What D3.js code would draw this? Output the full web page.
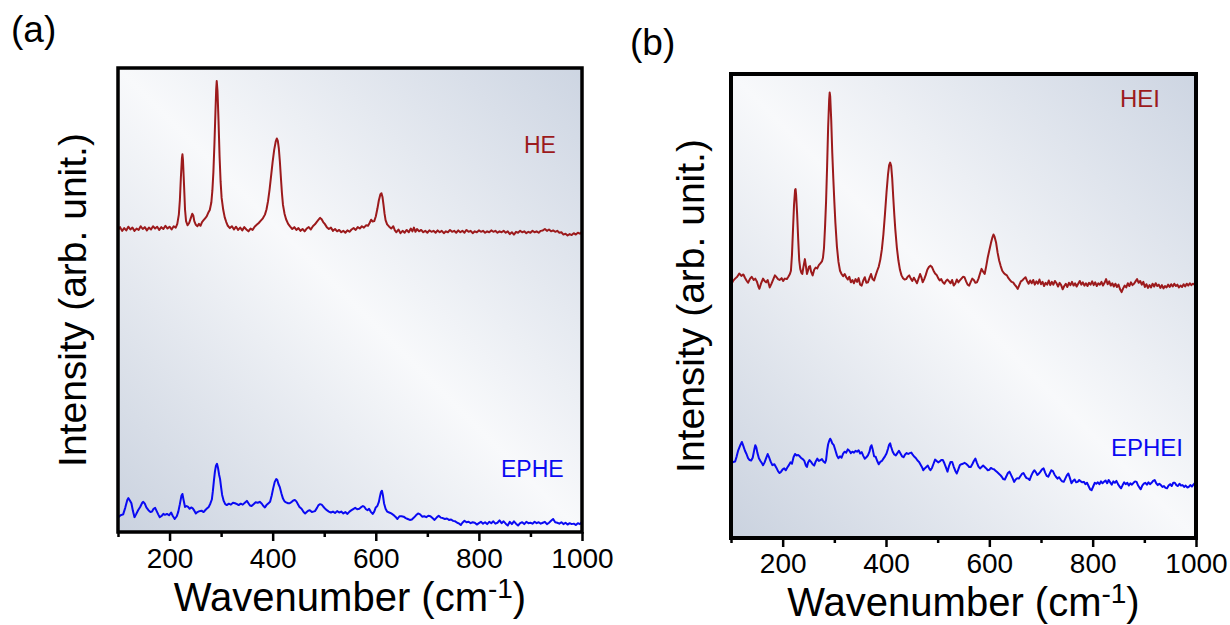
<!DOCTYPE html>
<html>
<head>
<meta charset="utf-8">
<script src="https://cdn.jsdelivr.net/npm/d3@7"></script>
<style>
  body { margin: 0; background: #fff; }
  text { font-family: Arial, "Liberation Sans", sans-serif; }
</style>
</head>
<body>
<svg id="chart" width="1230" height="625"></svg>
<script>
// Raman spectra, [wavenumber (cm-1), intensity (arb.)]
const heSpectrum = [[100,65.1],[104,65.7],[108,64.9],[112,65.5],[116,65.0],[120,65.8],[124,65.2],[128,65.6],[132,64.9],[136,65.4],[140,65.1],[144,65.9],[148,65.3],[152,65.7],[156,65.0],[160,65.6],[164,65.2],[168,65.9],[172,65.4],[176,65.8],[180,65.1],[184,65.7],[188,65.3],[192,66.0],[196,65.4],[200,65.8],[204,65.2],[208,65.9],[212,65.6],[215,66.4],[218,68.4],[220,71.5],[222,76.5],[224,80.6],[225,81.4],[226,80.2],[228,75.0],[230,69.5],[232,67.0],[235,66.1],[238,66.6],[241,67.6],[244,68.6],[246,68.2],[248,67.0],[251,66.2],[254,65.9],[257,66.4],[260,66.0],[263,66.8],[266,67.2],[269,67.6],[272,68.0],[275,68.8],[278,69.4],[281,71.0],[283,73.5],[285,77.5],[287,83.5],[289,90.5],[290.5,95.5],[291.5,97.2],[293,95.0],[295,88.5],[297,81.0],[299,75.5],[301,72.0],[304,69.5],[307,67.8],[310,66.8],[313,66.0],[317,65.5],[321,65.9],[325,65.2],[329,65.8],[333,65.1],[337,65.6],[341,65.0],[345,65.7],[349,65.2],[353,64.8],[357,65.4],[361,65.1],[365,65.8],[369,66.2],[373,66.6],[377,67.1],[381,67.6],[385,68.4],[388,69.5],[391,71.3],[394,73.8],[397,76.8],[400,79.8],[403,82.4],[406,84.2],[408,84.8],[410,84.3],[412,82.6],[414,79.8],[416,76.3],[418,73.0],[420,70.5],[423,68.6],[426,67.4],[430,66.4],[434,65.8],[438,65.3],[442,65.7],[446,65.1],[450,65.5],[454,64.9],[458,65.3],[462,64.8],[466,65.4],[470,65.7],[474,65.2],[478,65.9],[482,66.3],[486,66.9],[489,67.3],[492,67.7],[495,67.4],[498,66.8],[501,66.4],[505,65.7],[509,65.3],[513,65.6],[517,64.9],[521,65.3],[525,64.8],[529,65.1],[533,64.6],[537,64.9],[541,64.5],[545,65.0],[549,64.7],[553,65.2],[557,65.5],[561,65.1],[565,65.7],[569,65.4],[573,65.9],[577,65.6],[581,66.1],[585,66.0],[588,66.6],[591,67.3],[594,66.9],[597,67.0],[600,68.0],[603,69.6],[606,71.5],[609,72.8],[611,73.0],[613,72.2],[615,70.5],[617,68.6],[619,67.2],[622,66.3],[626,65.8],[630,65.4],[634,65.9],[637,65.0],[640,64.6],[644,65.2],[648,64.4],[652,64.9],[656,64.5],[660,65.1],[664,64.6],[668,65.4],[671,64.8],[674,65.6],[677,64.7],[680,65.3],[684,64.8],[688,65.1],[692,64.6],[696,64.9],[700,64.5],[704,65.0],[708,64.7],[712,64.9],[716,64.5],[720,65.0],[724,64.6],[728,64.9],[732,64.4],[736,64.8],[740,64.6],[744,65.1],[748,64.7],[752,64.9],[756,64.5],[760,65.0],[764,64.6],[768,64.9],[772,64.5],[776,65.1],[780,64.7],[784,64.9],[788,64.4],[792,64.8],[796,64.6],[800,65.0],[804,64.7],[808,64.9],[812,64.5],[816,64.8],[820,64.6],[824,65.0],[828,64.7],[832,64.9],[836,64.5],[840,64.8],[844,64.6],[848,64.9],[852,64.5],[856,64.8],[860,64.2],[864,64.6],[868,64.1],[872,64.7],[876,64.5],[880,64.9],[884,64.6],[888,64.8],[892,64.4],[896,64.7],[900,64.5],[904,64.9],[908,64.6],[912,64.8],[916,64.5],[920,64.9],[924,65.0],[928,65.3],[932,64.9],[936,65.2],[940,64.8],[944,65.0],[948,64.7],[952,64.9],[956,64.5],[960,64.6],[964,64.1],[968,64.3],[972,63.9],[976,64.2],[980,64.0],[984,64.4],[988,64.1],[992,64.5],[996,64.3],[1000,64.7]];

const epheSpectrum = [[100,3.1],[105,3.6],[110,3.8],[114,5.2],[118,6.9],[120,7.3],[123,6.8],[126,6.2],[129,4.5],[132,3.2],[135,3.8],[139,4.7],[143,5.4],[147,6.3],[149,6.5],[152,6.1],[155,5.3],[159,4.7],[163,4.3],[166,4.4],[169,5.0],[172,5.2],[175,4.5],[178,3.8],[181,3.2],[185,3.5],[188,3.9],[191,3.7],[195,3.9],[199,3.6],[203,4.2],[206,3.5],[210,2.8],[214,3.4],[217,4.4],[220,6.0],[223,7.8],[225,8.2],[227,7.0],[230,5.4],[233,5.6],[236,5.4],[239,5.0],[242,5.3],[245,5.1],[248,4.6],[251,4.0],[254,4.3],[258,4.5],[262,4.6],[266,4.3],[270,4.8],[273,5.1],[276,5.4],[279,6.1],[282,7.0],[284,8.8],[286,11.0],[288,13.0],[290,14.3],[292,14.7],[294,13.8],[296,12.4],[298,11.4],[300,9.6],[302,8.0],[305,6.7],[308,6.0],[311,5.8],[315,6.1],[319,5.9],[323,6.3],[327,6.2],[331,6.0],[334,5.8],[338,6.1],[342,5.9],[346,6.3],[350,6.7],[353,6.2],[356,5.7],[359,5.6],[363,6.0],[367,6.4],[371,6.3],[375,6.5],[379,6.1],[382,5.6],[385,5.3],[388,5.8],[392,6.2],[395,6.5],[398,7.8],[401,9.4],[404,10.8],[407,11.4],[409,11.2],[411,10.4],[414,9.6],[417,8.3],[420,7.2],[423,6.6],[426,6.4],[430,6.2],[433,6.2],[437,6.5],[440,6.8],[443,6.9],[446,6.6],[449,6.0],[452,5.4],[456,5.0],[460,4.3],[463,4.0],[466,4.3],[469,4.6],[472,4.7],[476,4.3],[479,4.4],[482,4.5],[486,5.2],[489,5.8],[492,6.0],[495,5.9],[498,5.5],[502,5.0],[505,4.7],[509,4.4],[513,4.2],[517,4.4],[521,4.1],[525,4.5],[529,4.2],[533,4.4],[537,4.0],[541,4.3],[545,3.9],[549,4.4],[553,4.7],[557,5.0],[560,5.2],[564,4.9],[568,5.0],[571,5.3],[575,5.6],[578,5.4],[581,4.9],[584,4.7],[587,5.0],[590,4.4],[594,3.9],[597,4.4],[600,5.3],[603,5.6],[606,6.5],[608,7.6],[610,8.6],[612,8.9],[614,7.8],[616,6.2],[619,5.0],[622,4.4],[626,4.2],[630,4.0],[634,3.7],[638,3.3],[642,2.8],[646,3.4],[650,3.4],[654,3.3],[658,3.0],[662,2.8],[666,2.6],[670,2.7],[674,3.1],[678,3.6],[682,4.0],[686,3.8],[690,3.3],[694,3.4],[698,3.2],[702,3.5],[706,3.4],[710,3.0],[714,2.6],[718,3.1],[722,3.5],[726,3.1],[730,3.0],[734,2.8],[738,2.9],[742,2.6],[746,2.7],[750,2.4],[754,2.3],[758,2.0],[762,1.8],[765,1.5],[768,2.0],[772,2.4],[776,2.1],[780,2.2],[784,1.9],[788,2.1],[792,2.0],[796,1.6],[800,1.9],[804,2.2],[808,1.8],[812,2.1],[816,1.7],[820,2.2],[824,1.9],[828,2.3],[832,1.8],[836,2.0],[840,2.5],[844,1.9],[848,2.3],[852,1.8],[856,1.4],[860,2.2],[864,1.7],[868,2.3],[872,1.8],[876,1.4],[880,1.9],[884,2.1],[888,1.7],[892,2.2],[896,1.9],[900,2.0],[904,1.8],[908,2.2],[912,1.9],[916,2.1],[920,1.8],[924,2.0],[928,2.2],[932,1.7],[936,2.0],[940,2.4],[944,2.8],[948,2.1],[952,2.0],[956,1.8],[960,2.1],[964,1.7],[968,2.0],[972,1.6],[976,1.9],[980,1.7],[984,1.8],[988,1.5],[992,1.9],[996,1.7],[1000,2.2]];

const heiSpectrum = [[100,54.6],[104,55.4],[108,55.9],[112,56.3],[116,57.0],[120,56.5],[124,56.8],[127,56.1],[130,55.5],[133,55.0],[137,55.9],[140,56.3],[144,55.6],[147,55.9],[150,55.3],[153,54.2],[155,53.7],[158,54.8],[162,55.9],[165,55.4],[168,55.1],[171,55.6],[175,54.0],[178,54.7],[182,55.8],[185,56.6],[188,56.2],[191,55.8],[194,55.6],[198,56.0],[201,55.4],[204,55.9],[208,55.8],[211,56.3],[214,56.9],[216,57.6],[218,61.0],[220,66.5],[222,71.8],[224,75.0],[225,75.2],[226,74.0],[228,69.8],[230,64.5],[232,59.9],[234,58.0],[236,57.2],[238,56.9],[240,58.3],[243,60.1],[245,58.6],[247,56.9],[249,57.6],[251,58.5],[253,58.6],[255,57.4],[258,56.6],[261,57.8],[264,58.3],[267,58.1],[270,58.8],[273,59.2],[276,59.6],[278,60.4],[280,62.5],[282,67.0],[284,72.5],[286,80.0],[288,88.5],[290,94.5],[291,96.0],[292,95.2],[294,90.0],[296,83.0],[298,77.5],[300,72.5],[302,68.0],[305,62.8],[308,59.5],[311,57.6],[314,56.9],[317,56.4],[320,56.9],[323,56.2],[326,55.7],[329,56.3],[332,55.1],[335,55.6],[338,54.9],[341,55.8],[344,55.2],[347,56.0],[350,54.6],[353,54.4],[356,55.5],[359,56.2],[362,55.0],[365,55.1],[368,56.0],[371,56.9],[374,55.8],[377,55.5],[380,56.6],[383,57.6],[386,58.5],[389,60.0],[392,62.2],[395,65.5],[398,69.8],[401,74.5],[404,78.5],[406,80.3],[408,80.9],[410,80.2],[412,77.5],[414,73.5],[416,69.8],[418,66.5],[421,62.6],[424,59.8],[427,57.8],[430,56.6],[433,56.0],[436,55.7],[439,55.8],[442,56.3],[445,56.6],[448,55.9],[451,55.4],[454,56.1],[457,55.5],[460,54.9],[463,55.9],[466,56.9],[469,56.0],[471,55.1],[474,55.8],[477,56.7],[480,57.8],[483,58.4],[486,58.7],[489,58.4],[492,57.6],[495,57.0],[498,56.7],[501,56.0],[504,55.5],[507,55.8],[510,55.1],[513,54.8],[516,55.4],[519,55.7],[522,55.3],[525,54.9],[528,55.6],[531,54.4],[534,54.8],[537,55.7],[540,55.1],[543,55.5],[546,55.9],[549,56.3],[552,56.2],[555,55.3],[558,54.6],[561,54.4],[564,55.2],[567,55.9],[570,55.6],[573,55.0],[576,55.1],[579,55.9],[582,57.0],[585,58.0],[588,57.4],[591,56.9],[594,58.6],[597,60.5],[600,62.0],[603,63.5],[606,64.8],[608,65.4],[610,65.0],[613,63.7],[616,61.5],[619,59.8],[622,58.6],[625,57.6],[628,57.1],[631,56.8],[634,56.6],[637,56.0],[640,55.6],[643,55.2],[646,55.1],[649,54.6],[652,54.2],[655,53.7],[658,54.5],[661,55.3],[664,55.5],[667,55.9],[670,56.2],[673,55.4],[676,54.8],[679,55.5],[682,54.9],[685,55.6],[688,54.6],[691,55.3],[694,54.8],[697,55.7],[700,54.7],[703,55.2],[706,54.3],[709,55.0],[712,54.6],[715,55.5],[718,54.5],[721,55.2],[724,54.6],[727,55.4],[730,54.9],[733,54.2],[736,55.0],[739,54.5],[742,53.6],[745,54.3],[748,54.8],[751,54.1],[754,55.0],[757,54.5],[760,55.2],[763,54.4],[766,54.9],[769,54.2],[772,54.8],[775,55.4],[778,54.6],[781,55.1],[784,54.4],[787,54.9],[790,54.3],[793,55.0],[796,54.6],[799,55.3],[802,54.5],[805,55.1],[808,54.3],[811,54.9],[814,54.6],[817,55.2],[820,54.4],[823,55.0],[826,55.8],[829,54.7],[832,55.3],[835,54.4],[838,54.9],[841,54.2],[844,54.8],[847,54.1],[850,54.6],[853,53.6],[856,53.0],[859,53.8],[862,54.4],[865,54.0],[868,54.9],[871,54.3],[874,55.1],[877,54.5],[880,54.8],[883,55.3],[886,55.8],[889,55.0],[892,55.4],[895,54.6],[898,55.2],[901,54.1],[904,54.7],[907,53.9],[910,54.5],[913,54.0],[916,54.8],[919,54.2],[922,54.9],[925,54.3],[928,54.6],[931,53.9],[934,54.5],[937,53.8],[940,54.3],[943,54.0],[946,54.6],[949,54.1],[952,54.7],[955,54.2],[958,54.8],[961,54.3],[964,54.6],[967,54.0],[970,54.4],[973,54.1],[976,54.7],[979,54.2],[982,54.8],[985,54.4],[988,54.9],[991,54.5],[994,54.8],[997,54.6],[1000,55.0]];

const epheiSpectrum = [[100,16.0],[104,16.4],[108,16.5],[111,17.6],[114,18.9],[118,20.0],[121,20.7],[124,19.8],[127,18.8],[130,18.1],[133,17.2],[136,16.8],[139,16.7],[142,17.3],[145,19.0],[147,20.0],[149,19.5],[151,18.4],[154,17.2],[157,16.6],[160,16.1],[162,15.7],[165,16.3],[168,17.2],[171,18.1],[174,17.3],[177,16.4],[180,15.7],[184,15.9],[188,15.1],[191,14.4],[194,14.0],[197,14.3],[200,14.8],[203,15.0],[206,14.6],[209,15.2],[212,15.7],[215,16.3],[218,16.0],[221,17.4],[224,18.1],[227,17.8],[230,17.9],[233,17.6],[236,17.2],[239,17.0],[242,16.6],[245,15.6],[247,15.3],[249,16.2],[252,16.8],[255,16.4],[258,15.9],[261,15.6],[264,16.5],[267,17.1],[270,16.6],[273,16.8],[276,17.0],[279,16.5],[282,16.2],[284,16.8],[286,18.8],[288,20.2],[290,20.9],[292,21.4],[294,21.0],[296,20.4],[299,20.0],[302,18.9],[305,17.8],[308,17.2],[311,17.6],[314,17.3],[317,18.2],[320,18.6],[323,18.4],[326,19.1],[329,18.8],[332,18.3],[335,18.6],[338,18.4],[341,18.8],[344,18.6],[347,18.9],[350,18.2],[353,18.5],[356,17.7],[359,17.1],[362,17.4],[365,17.8],[368,18.6],[370,19.6],[372,20.0],[374,19.2],[377,17.6],[380,17.5],[383,16.6],[386,15.9],[389,16.4],[392,16.6],[395,17.1],[398,17.6],[401,18.2],[404,19.3],[406,20.1],[408,20.4],[410,19.6],[413,18.6],[416,18.0],[419,17.8],[422,18.3],[425,18.8],[428,18.2],[431,17.6],[434,17.4],[437,18.0],[440,18.3],[443,18.1],[446,18.3],[449,18.4],[452,17.9],[455,17.5],[458,17.2],[461,16.7],[464,16.4],[467,15.8],[470,15.2],[472,14.6],[475,15.0],[478,15.3],[481,15.6],[484,14.9],[486,14.6],[489,15.1],[492,16.0],[495,16.9],[498,16.6],[501,16.3],[504,16.5],[507,16.8],[510,16.8],[513,16.1],[516,15.2],[519,14.3],[522,15.5],[525,16.4],[528,16.4],[531,15.4],[534,14.5],[537,13.9],[540,14.8],[543,15.7],[546,15.9],[549,16.0],[552,16.2],[555,16.0],[558,15.7],[561,15.3],[564,15.3],[567,15.9],[570,16.6],[573,17.1],[576,16.2],[579,15.4],[582,15.0],[585,15.3],[588,15.6],[591,15.3],[594,15.0],[597,14.6],[600,14.7],[603,15.1],[606,14.9],[609,14.8],[612,14.5],[615,14.2],[618,13.9],[621,13.6],[624,13.2],[627,12.7],[630,12.6],[633,13.3],[636,14.0],[639,14.3],[642,13.6],[645,12.9],[648,12.1],[651,12.6],[654,12.9],[657,12.8],[660,13.3],[663,13.8],[666,14.0],[669,13.4],[672,12.9],[675,12.8],[678,12.5],[681,13.4],[684,14.1],[687,14.6],[690,14.2],[693,13.6],[696,13.9],[699,14.3],[702,14.8],[705,15.0],[708,14.1],[711,13.4],[714,13.2],[717,13.9],[720,14.6],[723,14.4],[726,13.7],[729,13.2],[732,12.8],[735,13.1],[738,12.6],[741,12.2],[744,12.1],[747,12.8],[750,13.5],[753,13.9],[756,12.9],[759,11.8],[762,12.3],[765,12.6],[768,12.0],[771,12.1],[774,12.5],[777,12.2],[780,12.0],[783,12.1],[786,11.6],[789,11.9],[792,11.2],[795,10.5],[798,10.3],[801,11.1],[804,11.9],[807,11.7],[810,12.0],[813,11.6],[816,12.2],[819,11.8],[822,12.1],[825,12.4],[828,11.8],[831,12.5],[834,12.0],[837,11.5],[840,12.2],[843,11.9],[846,12.3],[849,11.6],[852,11.1],[855,10.7],[858,11.4],[861,12.0],[864,11.6],[867,11.9],[870,11.3],[873,11.8],[876,11.5],[879,11.9],[882,12.2],[885,12.1],[888,11.3],[891,10.8],[893,10.5],[896,11.3],[899,11.7],[902,11.9],[905,11.5],[908,12.0],[911,11.6],[914,11.9],[917,12.3],[920,12.5],[923,11.8],[926,11.4],[929,11.7],[932,11.4],[935,11.0],[938,11.2],[941,10.8],[944,10.7],[947,11.3],[950,11.6],[953,11.2],[956,11.9],[959,11.9],[962,11.4],[965,11.2],[968,11.7],[971,11.3],[974,11.4],[977,11.0],[980,11.3],[983,10.9],[986,11.0],[989,11.4],[992,11.1],[995,11.5],[998,11.9],[1000,12.0]];

const xDomain = [100, 1000];
const majorTicks = [200, 400, 600, 800, 1000];
const minorTicks = [100, 300, 500, 700, 900];
const panelLabels = ["(a)", "(b)"];
const seriesNames = [["HE", "EPHE"], ["HEI", "EPHEI"]];

const RED = "#9c1a1c";
const BLUE = "#0a0af2";

const svg = d3.select("#chart");
svg.append("rect").attr("width", 1230).attr("height", 625).attr("fill", "#fff");

// background shading of the plot area
const defs = svg.append("defs");
const grad = defs.append("linearGradient")
    .attr("id", "bg")
    .attr("x1", 0).attr("y1", 1).attr("x2", 1).attr("y2", 0);
grad.append("stop").attr("offset", 0).attr("stop-color", "#cad2df");
grad.append("stop").attr("offset", 0.5).attr("stop-color", "#f8f9fb");
grad.append("stop").attr("offset", 1).attr("stop-color", "#cdd5e2");

const panels = [
  { left: 118, right: 582, top: 68, bottom: 532, frame: 3.5,
    tag: [11, 42], yLabel: [86, 300], tickPad: 7, titleY: 611,
    curves: [heSpectrum, epheSpectrum],
    names: [[524, 153], [501, 477]], nameSize: 23 },
  { left: 731, right: 1196, top: 74, bottom: 538, frame: 4,
    tag: [630, 55], yLabel: [704, 306], tickPad: 6, titleY: 616,
    curves: [heiSpectrum, epheiSpectrum],
    names: [[1120, 107], [1111, 456]], nameSize: 24 }
];

panels.forEach((p, i) => {
  const x = d3.scaleLinear().domain(xDomain).range([p.left, p.right]);
  const y = d3.scaleLinear().domain([0, 100]).range([p.bottom, p.top]);

  svg.append("rect")
      .attr("x", p.left).attr("y", p.top)
      .attr("width", p.right - p.left).attr("height", p.bottom - p.top)
      .attr("fill", "url(#bg)");

  const line = d3.line()
      .x(d => x(d[0]))
      .y(d => y(d[1]));

  [RED, BLUE].forEach((col, k) => {
    svg.append("path")
        .datum(p.curves[k])
        .attr("fill", "none")
        .attr("stroke", col)
        .attr("stroke-width", 2)
        .attr("stroke-linejoin", "round")
        .attr("d", line);

    svg.append("text")
        .attr("x", p.names[k][0]).attr("y", p.names[k][1])
        .attr("font-size", p.nameSize)
        .attr("fill", col)
        .text(seriesNames[i][k]);
  });

  // bottom axis, major + minor ticks
  const major = svg.append("g")
      .attr("transform", `translate(0,${p.bottom})`)
      .call(d3.axisBottom(x).tickValues(majorTicks).tickFormat(d3.format("d"))
        .tickSize(9).tickPadding(p.tickPad));
  major.select(".domain").remove();
  major.selectAll(".tick line").attr("stroke", "#000").attr("stroke-width", 2.5);
  major.selectAll(".tick text")
      .attr("font-size", 28)
      .attr("font-family", "Arial, 'Liberation Sans', sans-serif")
      .attr("fill", "#000");

  const minor = svg.append("g")
      .attr("transform", `translate(0,${p.bottom})`)
      .call(d3.axisBottom(x).tickValues(minorTicks).tickSize(5).tickFormat(""));
  minor.select(".domain").remove();
  minor.selectAll(".tick line").attr("stroke", "#000").attr("stroke-width", 2.5);

  // frame
  svg.append("rect")
      .attr("x", p.left).attr("y", p.top)
      .attr("width", p.right - p.left).attr("height", p.bottom - p.top)
      .attr("fill", "none")
      .attr("stroke", "#000")
      .attr("stroke-width", p.frame);

  svg.append("text")
      .attr("x", p.tag[0]).attr("y", p.tag[1])
      .attr("font-size", 37)
      .attr("fill", "#000")
      .text(panelLabels[i]);

  svg.append("text")
      .attr("transform", `translate(${p.yLabel[0]},${p.yLabel[1]}) rotate(-90)`)
      .attr("text-anchor", "middle")
      .attr("font-size", 39)
      .attr("fill", "#000")
      .text("Intensity (arb. unit.)");

  const title = svg.append("text")
      .attr("x", (p.left + p.right) / 2).attr("y", p.titleY)
      .attr("text-anchor", "middle")
      .attr("font-size", 40)
      .attr("fill", "#000");
  title.append("tspan").text("Wavenumber (cm");
  title.append("tspan").attr("font-size", 28).attr("dy", -13).text("-1");
  title.append("tspan").attr("dy", 13).text(")");
});
</script>
</body>
</html>
